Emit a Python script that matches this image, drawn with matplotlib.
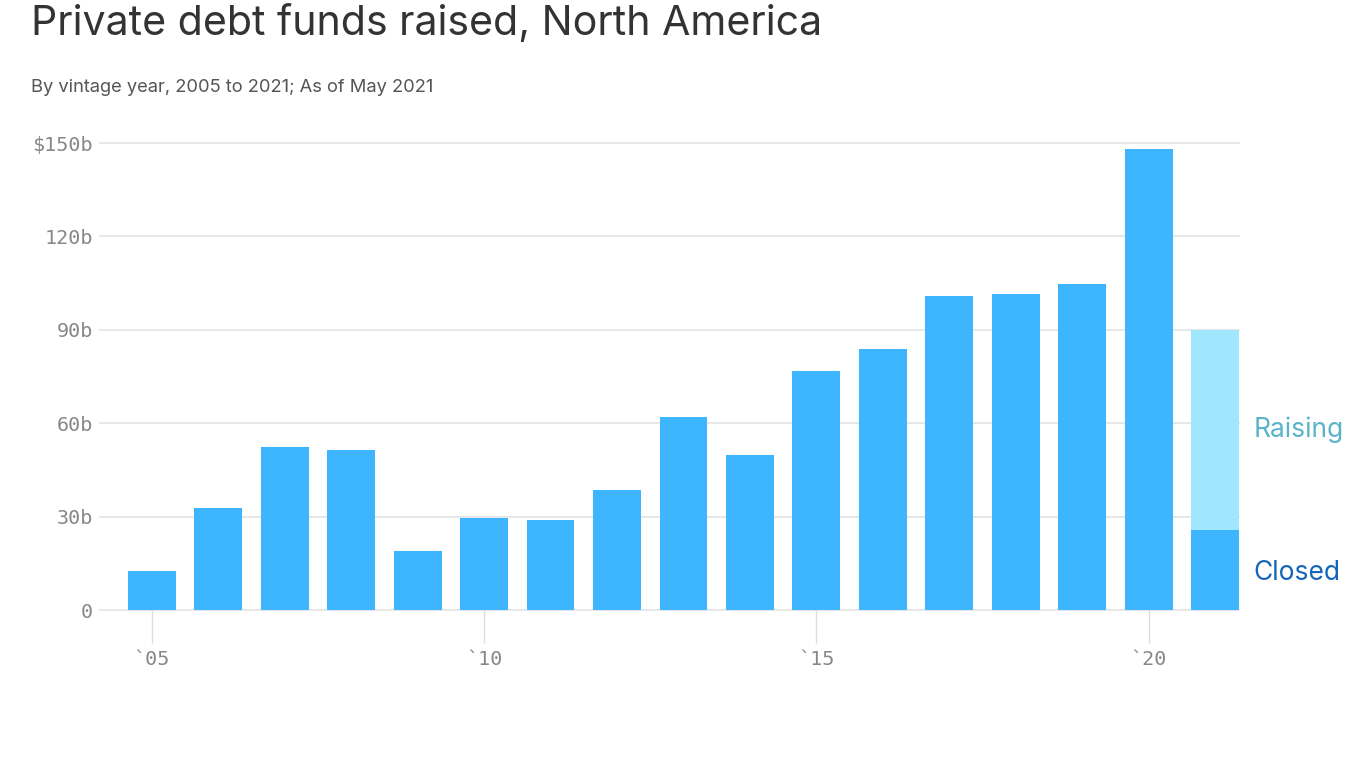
import matplotlib
matplotlib.use("Agg")
import matplotlib.pyplot as plt

# vintage years and amounts in $b
years = [2005, 2006, 2007, 2008, 2009, 2010, 2011, 2012, 2013, 2014,
         2015, 2016, 2017, 2018, 2019, 2020, 2021]
closed = [12.5, 32.8, 52.4, 51.4, 19.0, 29.6, 28.9, 38.5, 62.0, 49.8,
          76.8, 83.8, 100.9, 101.5, 104.7, 148.1, 25.7]
raising = [0, 0, 0, 0, 0, 0, 0, 0, 0, 0,
           0, 0, 0, 0, 0, 0, 64.3]

yticks = [0, 30, 60, 90, 120, 150]
ytick_labels = ["0", "30b", "60b", "90b", "120b", "$150b"]
xticks = [2005, 2010, 2015, 2020]
xtick_labels = ["`05", "`10", "`15", "`20"]

closed_color = "#3db5ff"
raising_color = "#a0e6ff"
mono = "DejaVu Sans Mono"

fig = plt.figure(figsize=(13.66, 7.68), dpi=100)
ax = fig.add_axes([100 / 1366, 1 - 610 / 768, 1139 / 1366, 467 / 768])

ax.bar(years, closed, width=0.72, color=closed_color, zorder=2)
ax.bar(years, raising, width=0.72, bottom=closed, color=raising_color, zorder=2)

ax.set_xlim(2004.22, 2021.36)
ax.set_ylim(0, 150)

ax.set_yticks(yticks)
ax.set_yticklabels(ytick_labels, family=mono, fontsize=14.5, color="#888888")
ax.tick_params(axis="y", length=0, pad=5)
for y in yticks:
    ax.axhline(y, color="#e3e3e3", lw=1.2, zorder=1, clip_on=False)

ax.set_xticks(xticks)
ax.set_xticklabels(xtick_labels, family=mono, fontsize=14.5, color="#888888")
ax.tick_params(axis="x", length=24, width=1, color="#dddddd", pad=5)

for s in ax.spines.values():
    s.set_visible(False)

# series labels for the last bar
ax.text(2021.58, closed[-1] + raising[-1] / 2, "Raising", color="#5ab4c8",
        fontsize=19, family="Inter", va="center", ha="left", clip_on=False)
ax.text(2021.58, closed[-1] / 2 - 1, "Closed", color="#1565b8",
        fontsize=19, family="Inter", va="center", ha="left", clip_on=False)

fig.text(31 / 1366, 1 - 23 / 768, "Private debt funds raised, North America",
         fontsize=29.6, family="Inter", color="#333333", va="center", ha="left")
fig.text(31 / 1366, 1 - 87 / 768, "By vintage year, 2005 to 2021; As of May 2021",
         fontsize=13.2, family="Inter", color="#555555", va="center", ha="left")

fig.savefig("out.png", dpi=100)
